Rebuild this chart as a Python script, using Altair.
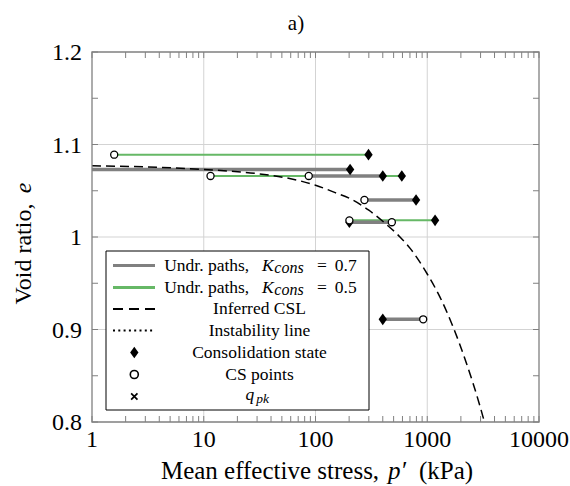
import altair as alt
import pandas as pd

# ---------------- data ----------------
# Undrained paths, K_cons = 0.7 (grey): consolidation state -> critical state
k07_cons_p = [204, 400, 794, 201, 400]
k07_cs_p = [0.8, 87, 274, 482, 920]
k07_e = [1.073, 1.066, 1.040, 1.016, 0.911]

# Undrained paths, K_cons = 0.5 (green)
k05_cons_p = [298, 592, 1175]
k05_cs_p = [1.58, 11.5, 201]
k05_e = [1.089, 1.066, 1.018]

# Inferred critical state line
csl_p = [1, 10, 30, 60, 100, 150, 200, 300, 400, 570, 700, 1000, 1300, 1700, 2250, 2950, 3300]
csl_e = [1.077, 1.073, 1.0685, 1.063, 1.056, 1.048, 1.042, 1.029, 1.017, 1.000, 0.988,
         0.960, 0.935, 0.903, 0.863, 0.818, 0.797]

# axes
x_major = [1, 10, 100, 1000, 10000]
x_labels = ["1", "10", "100", "1000", "10000"]
y_major = [0.8, 0.9, 1.0, 1.1, 1.2]
y_labels = ["0.8", "0.9", "1", "1.1", "1.2"]
x_grid = [10, 100, 1000]
y_grid = [0.9, 1.0, 1.1]
x_ticks = [m * 10 ** k for k in range(4) for m in range(1, 10)] + [10000]
y_ticks = [0.8, 0.85, 0.9, 0.95, 1.0, 1.05, 1.1, 1.15, 1.2]

# ---------------- styling ----------------
SERIF = "Liberation Serif"
GREY = "#808080"
GREEN = "#66b866"
GRID = "#d3d3d3"
FRAME = "#808080"
W, H = 447, 370
PL, PT = 92, 52  # plot-area origin inside the 570x486 page
DIAMOND = "M0,-1L0.72,0L0,1L-0.72,0Z"
CROSS = "M-1,-1L1,1M-1,1L1,-1"

xs = alt.Scale(type="log", domain=[1, 10000], nice=False)
ys = alt.Scale(domain=[0.8, 1.2], nice=False, zero=False)

k07 = pd.DataFrame({"cons": k07_cons_p, "cs": k07_cs_p, "e": k07_e})
k05 = pd.DataFrame({"cons": k05_cons_p, "cs": k05_cs_p, "e": k05_e})
csl = pd.DataFrame({"p": csl_p, "e": csl_e})
cons_pts = pd.DataFrame({"p": k07_cons_p + k05_cons_p, "e": k07_e + k05_e})
cs_pts = pd.DataFrame({"p": k07_cs_p + k05_cs_p, "e": k07_e + k05_e})
one = pd.DataFrame({"i": [0]})

# grid
gx = alt.Chart(pd.DataFrame({"v": x_grid})).mark_rule(color=GRID, strokeWidth=1).encode(
    x=alt.X("v:Q", scale=xs, axis=None))
gy = alt.Chart(pd.DataFrame({"v": y_grid})).mark_rule(color=GRID, strokeWidth=1).encode(
    y=alt.Y("v:Q", scale=ys, axis=None))

# tick labels through the scales
xl = alt.Chart(pd.DataFrame({"v": x_major, "lab": x_labels})).mark_text(
    font=SERIF, fontSize=24, color="black", align="center", baseline="alphabetic").encode(
    x=alt.X("v:Q", scale=xs, axis=None), y=alt.value(395), text="lab:N")
yl = alt.Chart(pd.DataFrame({"v": y_major, "lab": y_labels})).mark_text(
    font=SERIF, fontSize=24, color="black", align="right", baseline="alphabetic", dy=8).encode(
    y=alt.Y("v:Q", scale=ys, axis=None), x=alt.value(-10), text="lab:N")

# paths
green = alt.Chart(k05).mark_rule(color=GREEN, strokeWidth=2, clip=True).encode(
    x=alt.X("cs:Q", scale=xs, axis=None), x2="cons:Q",
    y=alt.Y("e:Q", scale=ys, axis=None))
grey = alt.Chart(k07).mark_rule(color=GREY, strokeWidth=3.5, clip=True).encode(
    x=alt.X("cs:Q", scale=xs, axis=None), x2="cons:Q",
    y=alt.Y("e:Q", scale=ys, axis=None))
csl_line = alt.Chart(csl).mark_line(color="black", strokeWidth=1.5, strokeDash=[9, 5],
                                    clip=True, interpolate="monotone").encode(
    x=alt.X("p:Q", scale=xs, axis=None), y=alt.Y("e:Q", scale=ys, axis=None))
diamonds = alt.Chart(cons_pts).mark_point(shape=DIAMOND, filled=True, color="black",
                                         size=135, opacity=1, clip=True).encode(
    x=alt.X("p:Q", scale=xs, axis=None), y=alt.Y("e:Q", scale=ys, axis=None))
circles = alt.Chart(cs_pts).mark_point(shape="circle", filled=True, fill="white",
                                      stroke="black", strokeWidth=1.3, size=50,
                                      opacity=1, clip=True).encode(
    x=alt.X("p:Q", scale=xs, axis=None), y=alt.Y("e:Q", scale=ys, axis=None))

# inward ticks on all four sides
TL = 6
xt = pd.DataFrame({"v": x_ticks})
yt = pd.DataFrame({"v": y_ticks})
tick_b = alt.Chart(xt).mark_rule(color=FRAME, strokeWidth=1).encode(
    x=alt.X("v:Q", scale=xs, axis=None), y=alt.value(H), y2=alt.value(H - TL))
tick_t = alt.Chart(xt).mark_rule(color=FRAME, strokeWidth=1).encode(
    x=alt.X("v:Q", scale=xs, axis=None), y=alt.value(0), y2=alt.value(TL))
tick_l = alt.Chart(yt).mark_rule(color=FRAME, strokeWidth=1).encode(
    y=alt.Y("v:Q", scale=ys, axis=None), x=alt.value(0), x2=alt.value(TL))
tick_r = alt.Chart(yt).mark_rule(color=FRAME, strokeWidth=1).encode(
    y=alt.Y("v:Q", scale=ys, axis=None), x=alt.value(W), x2=alt.value(W - TL))

frame = alt.Chart(one).mark_rect(fillOpacity=0, stroke=FRAME, strokeWidth=1.3).encode(
    x=alt.value(0), x2=alt.value(W), y=alt.value(0), y2=alt.value(H))


def txt(s, xabs, yabs, size=17.5, align="center", italic=False, angle=None,
        baseline="alphabetic"):
    kw = dict(text=s, font=SERIF, fontSize=size, align=align, baseline=baseline,
              color="black")
    if italic:
        kw["fontStyle"] = "italic"
    if angle is not None:
        kw["angle"] = angle
    return alt.Chart(one).mark_text(**kw).encode(x=alt.value(xabs - PL),
                                                 y=alt.value(yabs - PT))


def hline(x1, x2, yabs, **kw):
    return alt.Chart(one).mark_rule(**kw).encode(
        x=alt.value(x1 - PL), x2=alt.value(x2 - PL), y=alt.value(yabs - PT))


def sym(xabs, yabs, **kw):
    return alt.Chart(one).mark_point(opacity=1, **kw).encode(
        x=alt.value(xabs - PL), y=alt.value(yabs - PT))


# legend (manual)
R = [265.5, 287.5, 309, 330.5, 352.5, 374.5, 396.5]
LX1, LX2, LXC = 113, 155, 134.3
legend = [
    alt.Chart(one).mark_rect(fill="white", stroke="black", strokeWidth=1).encode(
        x=alt.value(106 - PL), x2=alt.value(369 - PL),
        y=alt.value(251 - PT), y2=alt.value(410 - PT)),
    hline(LX1, LX2, R[0], color=GREY, strokeWidth=3),
    hline(LX1, LX2, R[1], color=GREEN, strokeWidth=3),
    hline(LX1, LX2, R[2], color="black", strokeWidth=2, strokeDash=[10, 6]),
    hline(LX1, LX2, R[3], color="black", strokeWidth=2, strokeDash=[2, 3.3]),
    sym(LXC, R[4], shape=DIAMOND, filled=True, color="black", size=135),
    sym(LXC, R[5], shape="circle", filled=True, fill="white", stroke="black",
        strokeWidth=1.6, size=64),
    sym(LXC, R[6], shape=CROSS, filled=False, color="black", strokeWidth=1.7, size=40),
]
for r, val in ((R[0], "0.7"), (R[1], "0.5")):
    legend += [
        txt("Undr. paths,", 206.7, r + 5),
        txt("K", 267.8, r + 5, italic=True),
        txt("cons", 289, r + 7, size=16, italic=True),
        txt("=", 322, r + 5),
        txt(val, 345.8, r + 5),
    ]
legend += [
    txt("Inferred CSL", 259.5, R[2] + 5),
    txt("Instability line", 259.5, R[3] + 5),
    txt("Consolidation state", 259.5, R[4] + 5),
    txt("CS points", 259.5, R[5] + 5),
    txt("q", 249.8, R[6] + 3, italic=True),
    txt("pk", 262.5, R[6] + 6, size=13.5, italic=True),
]

# axis titles and panel label
titles = [
    txt("Mean effective stress,", 270, 479, size=25),
    txt("p\u2032", 397, 479, size=25, italic=True),
    txt("(kPa)", 446, 479, size=25),
    txt("Void ratio,", 31, 254, size=24, angle=270),
    txt("e", 31, 188, size=24, angle=270, italic=True),
    txt("a)", 296, 29.5, size=21),
]

chart = alt.layer(
    gx, gy, green, grey, csl_line, diamonds, circles,
    tick_b, tick_t, tick_l, tick_r, frame, xl, yl, *legend, *titles
).properties(
    width=W, height=H,
    padding={"left": PL, "top": PT, "right": 570 - PL - W, "bottom": 486 - PT - H},
    autosize=alt.AutoSizeParams(type="none"),
    background="white",
).configure_view(strokeWidth=0)

chart.save("out.html", embed_options={"renderer": "svg", "actions": False})
